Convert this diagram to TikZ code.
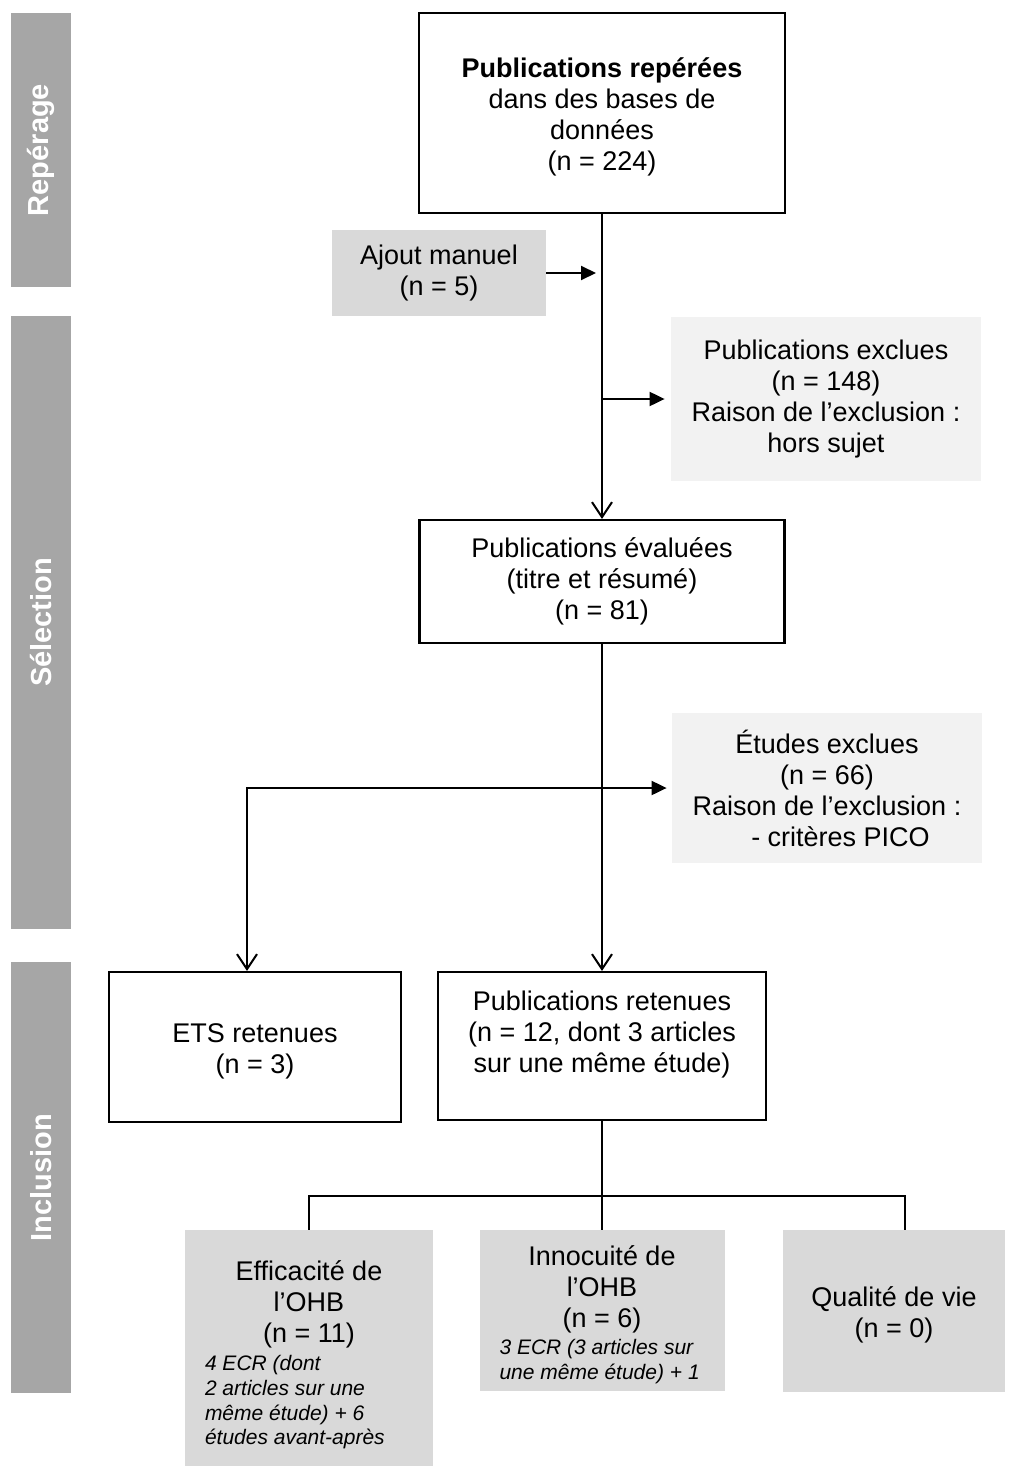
\documentclass[tikz,border=0pt]{standalone}
\usepackage{fontspec}
\setmainfont{Liberation Sans}
\usetikzlibrary{arrows.meta}
\definecolor{bargray}{HTML}{A6A6A6}
\definecolor{boxgray}{HTML}{D9D9D9}
\definecolor{palegray}{HTML}{F2F2F2}
\tikzset{
  base/.style={align=center, inner sep=0pt, font=\fontsize{13.5}{15.5}\selectfont, text=black},
  mainbox/.style={base, draw=black, line width=1.1pt, fill=white},
  greybox/.style={base, fill=boxgray},
  lightbox/.style={base, fill=palegray},
  phase/.style={fill=bargray, text=white, font=\fontsize{14.5}{17}\selectfont\bfseries, rotate=90, inner sep=0pt, minimum height=30pt},
  conn/.style={line width=1pt, draw=black},
  thinconn/.style={line width=0.8pt, draw=black},
  filltip/.style={-{Triangle[length=7.5pt,width=7pt]}},
  opentip/.style={-{Straight Barb[length=7.5pt,width=10pt,line width=1pt]}},
}
\newcommand{\notefont}{\fontsize{10.5}{12.3}\selectfont\itshape}
\newcommand{\topstrut}[1]{\rule{0pt}{#1}}
\begin{document}
\begin{tikzpicture}[x=0.5pt,y=-0.5pt]
\useasboundingbox (0,0) rectangle (1019,1466);
\fill[white] (0,0) rectangle (1019,1466);

% phase bars
\node[phase, minimum width=137pt] (rep) at (41,150) {Repérage};
\node[phase, minimum width=306.5pt] (sel) at (41,622.5) {Sélection};
\node[phase, minimum width=215.5pt] (inc) at (41,1177.5) {Inclusion};

% boxes
\node[mainbox, minimum width=183pt, minimum height=100pt] (top) at (602,113)
  {\topstrut{14pt}\textbf{Publications repérées}\\dans des bases de\\données\\(n = 224)};
\node[greybox, minimum width=107pt, minimum height=43pt] (ajout) at (439,273)
  {Ajout manuel\\(n = 5)};
\node[lightbox, minimum width=155pt, minimum height=82pt] (excl1) at (826,399)
  {Publications exclues\\(n = 148)\\Raison de l’exclusion :\\hors sujet};
\node[mainbox, minimum width=182.5pt, minimum height=61.5pt] (eval) at (602,581.5)
  {Publications évaluées\\(titre et résumé)\\(n = 81)};
\node[lightbox, minimum width=155pt, minimum height=75pt] (excl2) at (827,788)
  {Études exclues\\(n = 66)\\Raison de l’exclusion :\\\hspace*{1em}- critères PICO};
\node[mainbox, minimum width=146pt, minimum height=75pt] (ets) at (255,1047)
  {\topstrut{14pt}ETS retenues\\(n = 3)};
\node[mainbox, minimum width=164pt, minimum height=74pt] (pubret) at (602,1046)
  {Publications retenues\\(n = 12, dont 3 articles\\sur une même étude)\\[-1.5pt]\mbox{}};
\node[greybox, minimum width=124pt, minimum height=118pt] (eff) at (309,1348)
  {\topstrut{17pt}Efficacité de\\l’OHB\\(n = 11)\\[-1.5pt]\parbox[t]{104pt}{\notefont\raggedright 4 ECR (dont\\2 articles sur une\\même étude) + 6\\études avant-après}};
\node[greybox, minimum width=122.5pt, minimum height=80.5pt] (inn) at (602,1310.5)
  {\topstrut{14pt}Innocuité de\\l’OHB\\(n = 6)\\[-2pt]\parbox[t]{102.5pt}{\notefont\raggedright 3 ECR (3 articles sur\\une même étude) + 1}};
\node[greybox, minimum width=111pt, minimum height=81pt] (qual) at (894,1311)
  {\topstrut{14pt}Qualité de vie\\(n = 0)};

% connectors
\draw[conn, opentip] (top.south) -- (eval.north);
\draw[conn, filltip, shorten >=3pt] (ajout.east) -- (ajout.east -| top.south);
\coordinate (b1) at (top.south |- excl1.west);
\draw[conn, filltip, shorten >=3pt] (b1) -- (excl1.west);
\coordinate (bend) at (247,788);
\draw[conn, {Straight Barb[length=7.5pt,width=10pt,line width=1pt]}-{Triangle[length=7.5pt,width=7pt]}, shorten >=2.5pt]
  (bend |- ets.north) -- (bend) -- (excl2.west);
\draw[conn, opentip] (eval.south) -- (pubret.north);
\coordinate (hl) at (309,1196);
\coordinate (hr) at (905,1196);
\draw[thinconn] (pubret.south) -- (inn.north);
\draw[thinconn] (eff.north) -- (hl) -- (hr) -- (hr |- qual.north);
\end{tikzpicture}
\end{document}
